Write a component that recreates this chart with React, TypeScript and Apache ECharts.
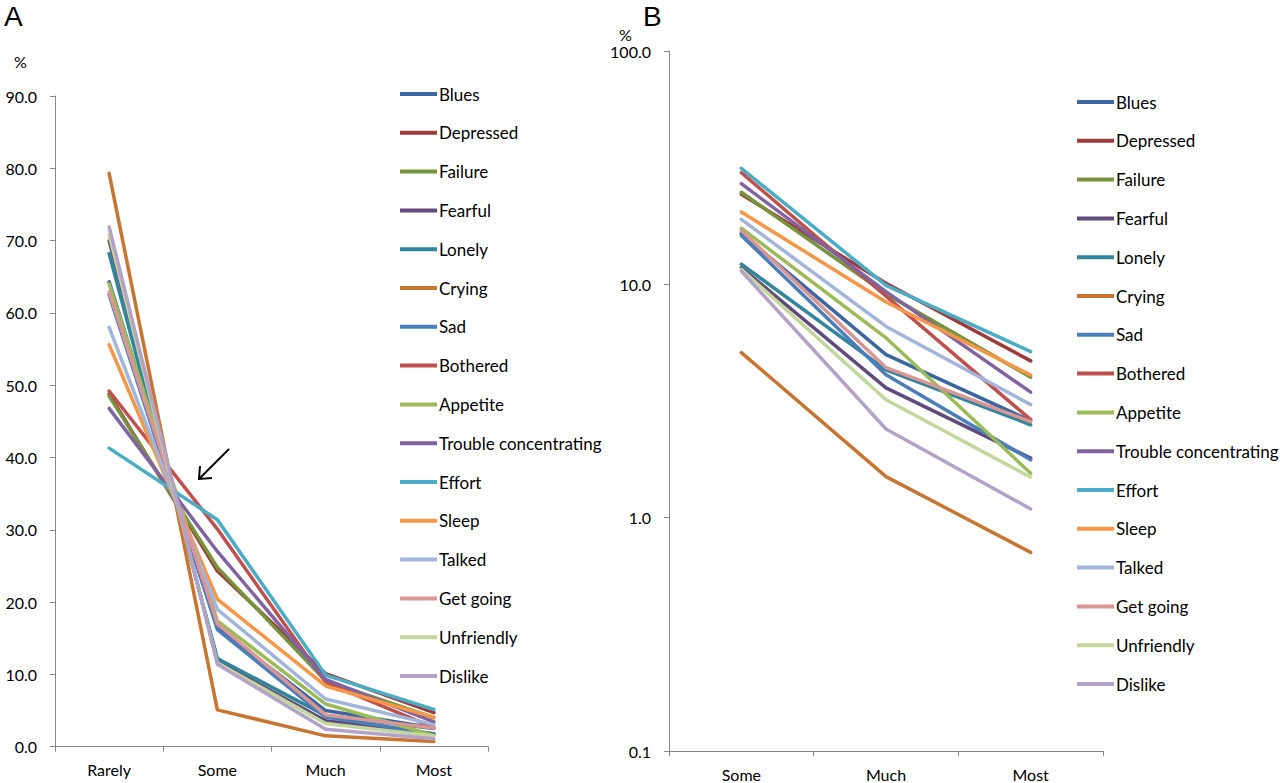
import React, { useEffect, useRef } from "react";
import * as echarts from "echarts";

const categoriesA = ["Rarely", "Some", "Much", "Most"];
const categoriesB = ["Some", "Much", "Most"];

const itemNames = [
  "Blues", "Depressed", "Failure", "Fearful", "Lonely", "Crying", "Sad", "Bothered",
  "Appetite", "Trouble concentrating", "Effort", "Sleep", "Talked", "Get going", "Unfriendly", "Dislike",
];

const itemColors = [
  "#3B66A0", "#9E3A38", "#77933C", "#604A7B", "#31859C", "#C77530", "#4A7EBB", "#C0504D",
  "#9BBB59", "#8064A2", "#4BACC6", "#F79646", "#A1B4DA", "#D99694", "#C3D69B", "#B3A2C7",
];

const rarelyValues = [64.3, 48.8, 48.5, 70.0, 68.2, 79.3, 62.5, 49.2, 64.0, 46.8, 41.3, 55.6, 58.0, 62.9, 70.8, 71.9];
const someValues = [16.5, 24.3, 24.8, 11.8, 12.2, 5.1, 16.2, 30.1, 17.4, 27.0, 31.4, 20.4, 19.0, 17.0, 11.6, 11.4];
const muchValues = [5.0, 10.1, 9.1, 3.6, 4.3, 1.5, 4.1, 8.9, 5.9, 9.3, 9.9, 8.4, 6.6, 4.4, 3.2, 2.4];
const mostValues = [2.6, 4.7, 4.0, 1.8, 2.5, 0.71, 1.77, 2.63, 1.55, 3.45, 5.15, 4.08, 3.05, 2.58, 1.49, 1.09];

const linearTicks = [0, 90, 10];
const logTicks = [0.1, 100];

const FONT = "Lato, 'Open Sans', sans-serif";
const AXIS_COLOR = "#868686";

export default function App() {
  const ref = useRef<HTMLDivElement>(null);

  useEffect(() => {
    document.body.style.margin = "0";
    if (!ref.current) return;
    const chart = echarts.init(ref.current, null, { renderer: "svg" });

    const seriesA = itemNames.map((name, i) => ({
      type: "line",
      name,
      xAxisIndex: 0,
      yAxisIndex: 0,
      data: [rarelyValues[i], someValues[i], muchValues[i], mostValues[i]],
      showSymbol: false,
      symbol: "none",
      color: itemColors[i],
      lineStyle: { width: 3.5, color: itemColors[i], join: "round", cap: "round" },
      emphasis: { disabled: true },
    }));
    const seriesB = itemNames.map((name, i) => ({
      type: "line",
      name,
      xAxisIndex: 1,
      yAxisIndex: 1,
      data: [someValues[i], muchValues[i], mostValues[i]],
      showSymbol: false,
      symbol: "none",
      color: itemColors[i],
      lineStyle: { width: 3.5, color: itemColors[i], join: "round", cap: "round" },
      emphasis: { disabled: true },
    }));

    const axisCommon = {
      axisLine: { show: true, lineStyle: { color: AXIS_COLOR, width: 1 } },
      axisTick: { show: true, length: 5, lineStyle: { color: AXIS_COLOR } },
      splitLine: { show: false },
    };

    const legendCommon = {
      orient: "vertical",
      icon: "rect",
      itemWidth: 37,
      itemHeight: 4,
      itemGap: 18.8,
      selectedMode: false,
      textStyle: { fontFamily: FONT, fontSize: 17, color: "#000", lineHeight: 20, padding: [0, 0, 0, -3] },
      data: itemNames,
    };

    chart.setOption({
      animation: false,
      grid: [
        { left: 55, top: 96, width: 433, height: 650.7 },
        { left: 669, top: 51, width: 434, height: 700 },
      ],
      xAxis: [
        {
          type: "category",
          gridIndex: 0,
          data: categoriesA,
          boundaryGap: true,
          ...axisCommon,
          axisLabel: { fontFamily: FONT, fontSize: 16, color: "#000", margin: 15 },
        },
        {
          type: "category",
          gridIndex: 1,
          data: categoriesB,
          boundaryGap: true,
          ...axisCommon,
          axisLabel: { fontFamily: FONT, fontSize: 16, color: "#000", margin: 15 },
        },
      ],
      yAxis: [
        {
          type: "value",
          gridIndex: 0,
          min: linearTicks[0],
          max: linearTicks[1],
          interval: linearTicks[2],
          ...axisCommon,
          axisLabel: {
            fontFamily: FONT,
            fontSize: 16,
            color: "#000",
            margin: 18,
            formatter: (v: number) => v.toFixed(1),
          },
        },
        {
          type: "log",
          logBase: 10,
          gridIndex: 1,
          min: logTicks[0],
          max: logTicks[1],
          ...axisCommon,
          axisLabel: {
            fontFamily: FONT,
            fontSize: 16,
            color: "#000",
            margin: 18,
            formatter: (v: number) => Number(v).toFixed(1),
          },
          minorTick: { show: false },
        },
      ],
      legend: [
        { ...legendCommon, left: 395, top: 79 },
        { ...legendCommon, left: 1072, top: 87 },
      ],
      graphic: [
        { type: "text", left: 4, top: 2, style: { text: "A", font: "28px 'Liberation Sans', Arial, sans-serif", fill: "#000" } },
        { type: "text", left: 643, top: 2, style: { text: "B", font: "28px 'Liberation Sans', Arial, sans-serif", fill: "#000" } },
        { type: "text", left: 14, top: 53, style: { text: "%", font: `16px ${FONT}`, fill: "#000" } },
        { type: "text", left: 619, top: 26, style: { text: "%", font: `16px ${FONT}`, fill: "#000" } },
        {
          type: "group",
          children: [
            { type: "line", shape: { x1: 229, y1: 449, x2: 200, y2: 478 }, style: { stroke: "#000", lineWidth: 2 } },
            { type: "polyline", shape: { points: [[200, 466], [199, 479], [212, 478]] }, style: { stroke: "#000", lineWidth: 2, fill: null } },
          ],
        },
      ],
      series: [...seriesA, ...seriesB],
    });

    return () => chart.dispose();
  }, []);

  return <div ref={ref} style={{ width: 1280, height: 783 }} />;
}
